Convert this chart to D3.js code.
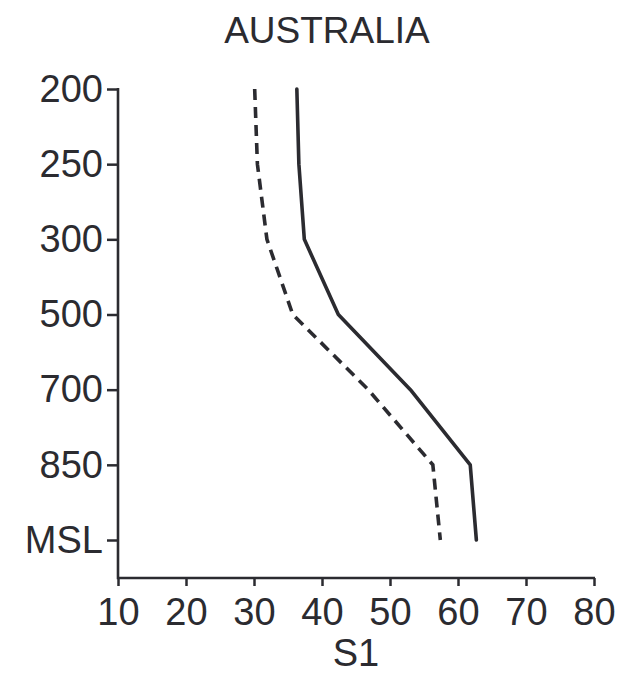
<!DOCTYPE html>
<html>
<head>
<meta charset="utf-8">
<script src="https://cdn.jsdelivr.net/npm/d3@7"></script>
<style>
  body { margin: 0; background: #fff; }
  text { font-family: "Liberation Sans", Arial, sans-serif; fill: #2b2b30; }
</style>
</head>
<body>
<div class="render"></div>
<script>
// pressure levels, top to bottom
var levels = ['200', '250', '300', '500', '700', '850', 'MSL'];
var xTicks = [10, 20, 30, 40, 50, 60, 70, 80];
// S1 values
var solidS1 = [36.3, 36.6, 37.4, 42.4, 53.0, 61.8, 62.7];
var dashedS1 = [30.1, 30.5, 31.9, 35.7, 46.8, 56.3, 57.4];

var W = 633, H = 677;
var ink = '#2b2b30';
var plotL = 118, plotR = 594, plotT = 89, plotB = 578;

var svg = d3.select('.render').append('svg')
    .attr('width', W).attr('height', H);

var x = d3.scaleLinear().domain([10, 80]).range([plotL, plotR]);
var y = d3.scalePoint().domain(levels).range([plotT, 540]);

// axes
var gx = svg.append('g')
    .attr('transform', 'translate(0,' + plotB + ')')
    .call(d3.axisBottom(x).tickValues(xTicks).tickSize(8).tickPadding(12).tickSizeOuter(0));
var gy = svg.append('g')
    .attr('transform', 'translate(' + plotL + ',0)')
    .call(d3.axisLeft(y).tickSize(11).tickPadding(4));

[gx, gy].forEach(function(g) {
    g.select('.domain').remove();
    g.selectAll('line').attr('stroke', ink).attr('stroke-width', 2.5);
    g.selectAll('text').attr('font-size', 38).style('font-family', '"Liberation Sans", Arial, sans-serif').attr('fill', ink);
});

// axis lines run into the corner
svg.append('path')
    .attr('d', 'M' + plotL + ',' + (plotT - 1) + 'V' + plotB + 'H' + (plotR + 1))
    .attr('fill', 'none').attr('stroke', ink).attr('stroke-width', 2.6);

var line = d3.line()
    .x(function(d) { return x(d.v); })
    .y(function(d) { return y(d.lev); });

function pts(vals) {
    return levels.map(function(l, i) { return { lev: l, v: vals[i] }; });
}

svg.append('path')
    .datum(pts(solidS1))
    .attr('d', line)
    .attr('fill', 'none').attr('stroke', ink).attr('stroke-width', 3.6)
    .attr('stroke-linejoin', 'round').attr('stroke-linecap', 'round');

svg.append('path')
    .datum(pts(dashedS1))
    .attr('d', line)
    .attr('fill', 'none').attr('stroke', ink).attr('stroke-width', 3.6)
    .attr('stroke-dasharray', '11,7');

// title and x label
svg.append('text')
    .attr('x', 327).attr('y', 43)
    .attr('text-anchor', 'middle').attr('font-size', 37)
    .text('AUSTRALIA');

svg.append('text')
    .attr('x', x(45)).attr('y', 666)
    .attr('text-anchor', 'middle').attr('font-size', 38)
    .text('S1');
</script>
</body>
</html>
